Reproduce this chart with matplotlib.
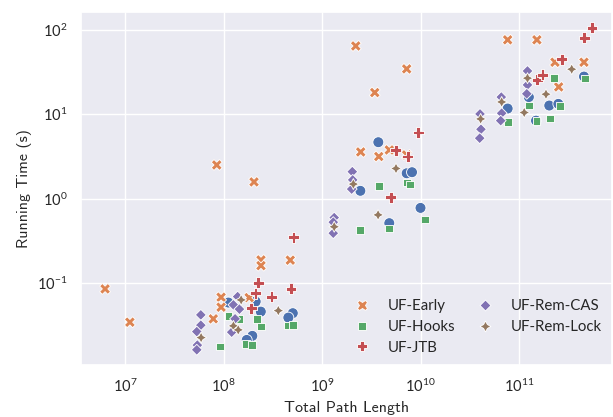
import numpy as np
import pandas as pd
import matplotlib
matplotlib.use("Agg")
import matplotlib.pyplot as plt
import seaborn as sns

# Series names (first series is drawn but its legend entry is absent in the reference)
series_names = ["UF-Base", "UF-Early", "UF-Hooks", "UF-JTB", "UF-Rem-CAS", "UF-Rem-Lock"]

base_len = [1.12e8, 2.12e8, 2.39e8, 1.96e8, 1.72e8, 5.05e8, 4.55e8, 3.73e9, 7.24e9, 8.20e9,
            2.45e9, 1.00e10, 4.82e9, 7.67e10, 1.26e11, 2.03e11, 2.51e11, 1.49e11, 4.57e11]
base_time = [0.0588, 0.0604, 0.0459, 0.0237, 0.0212, 0.0440, 0.0390, 4.67, 2.00, 2.06,
             1.24, 0.778, 0.513, 11.7, 16.0, 12.7, 13.3, 8.41, 28.0]

early_len = [6.27e6, 1.12e7, 8.53e7, 2.04e8, 2.40e8, 2.40e8, 4.76e8, 9.44e7, 9.44e7, 7.87e7,
             1.82e8, 2.20e9, 7.24e9, 3.43e9, 2.47e9, 3.77e9, 4.82e9, 7.24e9, 7.67e10, 1.52e11,
             2.32e11, 4.57e11, 2.53e11]
early_time = [0.0853, 0.0344, 2.51, 1.58, 0.188, 0.161, 0.187, 0.068, 0.0518, 0.0377,
              0.0673, 64.5, 34.5, 18.1, 3.58, 3.16, 3.78, 3.30, 76.3, 76.3,
              41.4, 41.4, 21.1]

hooks_len = [9.21e7, 1.12e8, 1.44e8, 2.17e8, 2.40e8, 1.69e8, 1.93e8, 4.55e8, 5.05e8, 3.77e9,
             7.24e9, 7.82e9, 2.45e9, 4.82e9, 1.11e10, 2.28e11, 4.65e11, 1.26e11, 7.67e10, 2.05e11,
             2.61e11, 1.51e11]
hooks_time = [0.0177, 0.0409, 0.0377, 0.0377, 0.0305, 0.0189, 0.0185, 0.0314, 0.032, 1.42,
              1.55, 1.47, 0.427, 0.443, 0.565, 26.8, 26.5, 12.7, 8.13, 8.89,
              12.6, 8.41]

jtb_len = [2.25e8, 2.12e8, 3.08e8, 4.84e8, 1.91e8, 5.12e8, 9.44e9, 5.60e9, 7.41e9, 4.98e9,
           5.51e11, 4.60e11, 2.72e11, 1.53e11, 1.74e11]
jtb_time = [0.101, 0.0759, 0.0687, 0.0853, 0.0504, 0.350, 6.07, 3.76, 3.16, 1.04,
            106.0, 80.4, 45.0, 25.6, 29.3]

cas_len = [5.88e7, 5.88e7, 5.35e7, 5.42e7, 5.35e7, 1.39e8, 1.26e8, 1.45e8, 1.31e8, 1.21e8,
           2.03e9, 2.05e9, 2.00e9, 1.33e9, 1.30e9, 1.30e9, 1.22e11, 1.22e11, 1.20e11, 6.61e10,
           6.67e10, 6.52e10, 4.02e10, 4.11e10, 3.99e10]
cas_time = [0.0420, 0.0317, 0.0266, 0.0184, 0.0162, 0.0692, 0.0552, 0.0491, 0.0377, 0.0262,
            2.09, 1.67, 1.30, 0.597, 0.527, 0.390, 32.6, 22.3, 17.5, 16.0,
            10.3, 8.41, 10.1, 6.65, 5.21]

lock_len = [5.92e7, 1.51e8, 1.26e8, 1.41e8, 3.60e8, 5.64e9, 2.08e9, 3.71e9, 1.33e9, 3.43e11,
            1.22e11, 1.88e11, 6.67e10, 1.13e11, 4.08e10]
lock_time = [0.0226, 0.0632, 0.0311, 0.0279, 0.0472, 2.28, 1.49, 0.643, 0.465, 34.2,
             26.8, 17.3, 14.0, 10.5, 8.81]

x_limits = (3.57e6, 8.8e11)
y_limits = (0.0107, 163.0)

all_len = [base_len, early_len, hooks_len, jtb_len, cas_len, lock_len]
all_time = [base_time, early_time, hooks_time, jtb_time, cas_time, lock_time]
frames = []
for name, xs, ys in zip(series_names, all_len, all_time):
    frames.append(pd.DataFrame({"len": xs, "time": ys, "alg": name}))
df = pd.concat(frames, ignore_index=True)

sns.set_theme(style="darkgrid")
plt.rcParams["font.family"] = ["Lato", "DejaVu Sans"]
plt.rcParams["mathtext.fontset"] = "cm"
plt.rcParams["axes.unicode_minus"] = False

fig = plt.figure(figsize=(6.13, 4.17), dpi=100)
ax = fig.add_axes([81 / 613, 1 - 365 / 417, (612 - 81) / 613, (365 - 12) / 417])

sns.scatterplot(data=df, x="len", y="time", hue="alg", style="alg",
                hue_order=series_names, style_order=series_names, s=62, ax=ax)
ax.set_xscale("log")
ax.set_yscale("log")
ax.set_xlim(*x_limits)
ax.set_ylim(*y_limits)
ax.tick_params(axis="both", labelsize=10.5, colors="0.15")
ax.set_xlabel("Total Path Length", family="cmss10", fontsize=11.5, color="0.15")
ax.set_ylabel("Running Time (s)", family="cmss10", fontsize=11.5, color="0.15")

handles, labels = ax.get_legend_handles_labels()
ax.legend(handles[1:], labels[1:], ncol=2, frameon=False, loc="lower right",
          fontsize=10.8, handletextpad=0.7, columnspacing=1.0, labelspacing=0.45,
          borderaxespad=0.3)

fig.savefig("out.png", dpi=100)
